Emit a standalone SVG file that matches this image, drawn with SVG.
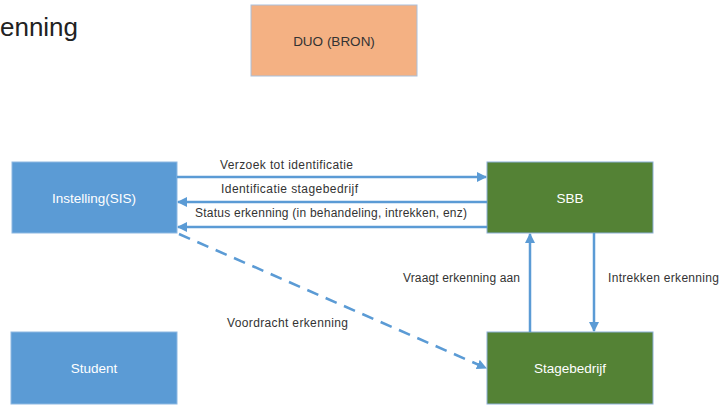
<svg xmlns="http://www.w3.org/2000/svg" width="722" height="406" viewBox="0 0 722 406">
<style>
.lbl{font-family:"Liberation Sans",Arial,sans-serif;font-size:12px;fill:#333333}
.nt{font-family:"Liberation Sans",Arial,sans-serif;font-size:13.5px;fill:#ffffff;text-anchor:middle;dominant-baseline:central}
.blue{fill:#5B9BD5;stroke:#8DB8E2;stroke-width:1}
.green{fill:#548235;stroke:#8CAFD8;stroke-width:1}
.orange{fill:#F4B183;stroke:#A9C0DC;stroke-width:1}
.c{stroke:#5B9BD5;stroke-width:2.5;fill:none}
</style>
<defs>
<marker id="ah" viewBox="0 0 10 10" refX="9" refY="5" markerWidth="4" markerHeight="4" orient="auto" markerUnits="strokeWidth">
<path d="M0,0 L10,5 L0,10 z" fill="#5B9BD5"/>
</marker>
</defs>
<rect width="722" height="406" fill="#ffffff"/>
<text x="0" y="36" textLength="78" style="font-family:'Liberation Sans',Arial,sans-serif;font-size:26px;fill:#222222">enning</text>
<g id="duo"><rect class="orange" x="251" y="5" width="166" height="71"/><text class="nt" x="334" y="41" style="fill:#333333">DUO (BRON)</text></g>
<g id="instelling"><rect class="blue" x="12" y="162" width="165" height="71"/><text class="nt" x="94" y="198">Instelling(SIS)</text></g>
<g id="sbb"><rect class="green" x="487" y="162" width="166" height="71"/><text class="nt" x="570" y="198">SBB</text></g>
<g id="student"><rect class="blue" x="11" y="332" width="166" height="72"/><text class="nt" x="94" y="368">Student</text></g>
<g id="stagebedrijf"><rect class="green" x="487" y="332" width="166" height="72"/><text class="nt" x="570" y="368">Stagebedrijf</text></g>
<g id="connectors">
<line class="c" x1="177" y1="177" x2="486" y2="177" marker-end="url(#ah)"/>
<line class="c" x1="487" y1="202" x2="178" y2="202" marker-end="url(#ah)"/>
<line class="c" x1="487" y1="227" x2="178" y2="227" marker-end="url(#ah)"/>
<line class="c" x1="530" y1="332" x2="530" y2="234" marker-end="url(#ah)"/>
<line class="c" x1="594" y1="233" x2="594" y2="331" marker-end="url(#ah)"/>
<line class="c" x1="179" y1="234" x2="486" y2="368" stroke-dasharray="12,8" marker-end="url(#ah)"/>
<text class="lbl" x="220" y="169" textLength="133">Verzoek tot identificatie</text>
<text class="lbl" x="221" y="193" textLength="137">Identificatie stagebedrijf</text>
<text class="lbl" x="195" y="217" textLength="272">Status erkenning (in behandeling, intrekken, enz)</text>
<text class="lbl" x="403" y="282" textLength="117">Vraagt erkenning aan</text>
<text class="lbl" x="608" y="282" textLength="111">Intrekken erkenning</text>
<text class="lbl" x="227" y="327" textLength="121">Voordracht erkenning</text>
</g>
</svg>
